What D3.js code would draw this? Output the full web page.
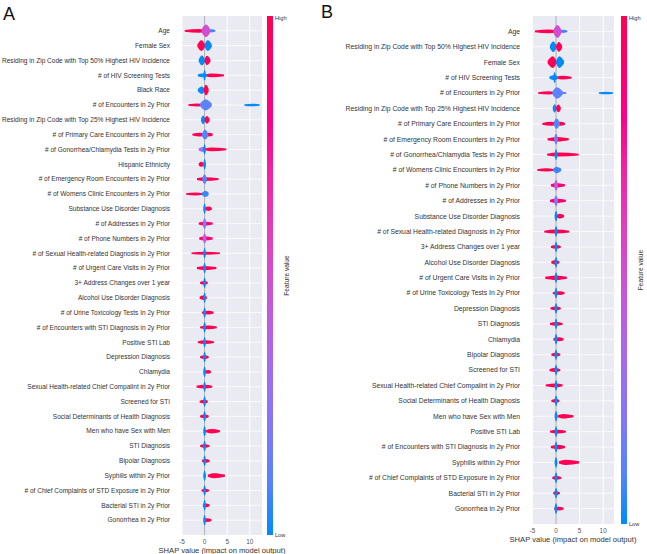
<!DOCTYPE html>
<html lang="en">
<head>
<meta charset="UTF-8" />
<title>SHAP summary</title>
<script src="https://d3js.org/d3.v7.min.js"></script>
<style>
  body { margin: 0; background: #fff; }
  text { font-family: "Liberation Sans", Arial, sans-serif; }
</style>
</head>
<body>
<script>
// feature names, top to bottom
var featuresA = [
  "Age", "Female Sex", "Residing in Zip Code with Top 50% Highest HIV Incidence",
  "# of HIV Screening Tests", "Black Race", "# of Encounters in 2y Prior",
  "Residing in Zip Code with Top 25% Highest HIV Incidence",
  "# of Primary Care Encounters in 2y Prior", "# of Gonorrhea/Chlamydia Tests in 2y Prior",
  "Hispanic Ethnicity", "# of Emergency Room Encounters in 2y Prior",
  "# of Womens Clinic Encounters in 2y Prior", "Substance Use Disorder Diagnosis",
  "# of Addresses in 2y Prior", "# of Phone Numbers in 2y Prior",
  "# of Sexual Health-related Diagnosis in 2y Prior", "# of Urgent Care Visits in 2y Prior",
  "3+ Address Changes over 1 year", "Alcohol Use Disorder Diagnosis",
  "# of Urine Toxicology Tests In 2y Prior", "# of Encounters with STI Diagnosis in 2y Prior",
  "Positive STI Lab", "Depression Diagnosis", "Chlamydia",
  "Sexual Health-related Chief Compalint in 2y Prior", "Screened for STI",
  "Social Determinants of Health Diagnosis", "Men who have Sex with Men",
  "STI Diagnosis", "Bipolar Diagnosis", "Syphilis within 2y Prior",
  "# of Chief Complaints of STD Exposure in 2y Prior", "Bacterial STI in 2y Prior",
  "Gonorrhea in 2y Prior"
];
var featuresB = [
  "Age", "Residing in Zip Code with Top 50% Highest HIV Incidence", "Female Sex",
  "# of HIV Screening Tests", "# of Encounters in 2y Prior",
  "Residing in Zip Code with Top 25% Highest HIV Incidence",
  "# of Primary Care Encounters in 2y Prior", "# of Emergency Room Encounters in 2y Prior",
  "# of Gonorrhea/Chlamydia Tests in 2y Prior", "# of Womens Clinic Encounters in 2y Prior",
  "# of Phone Numbers in 2y Prior", "# of Addresses in 2y Prior",
  "Substance Use Disorder Diagnosis", "# of Sexual Health-related Diagnosis in 2y Prior",
  "3+ Address Changes over 1 year", "Alcohol Use Disorder Diagnosis",
  "# of Urgent Care Visits in 2y Prior", "# of Urine Toxicology Tests In 2y Prior",
  "Depression Diagnosis", "STI Diagnosis", "Chlamydia", "Bipolar Diagnosis",
  "Screened for STI", "Sexual Health-related Chief Compalint in 2y Prior",
  "Social Determinants of Health Diagnosis", "Men who have Sex with Men",
  "Positive STI Lab", "# of Encounters with STI Diagnosis in 2y Prior",
  "Syphilis within 2y Prior", "# of Chief Complaints of STD Exposure in 2y Prior",
  "Bacterial STI in 2y Prior", "Gonorrhea in 2y Prior"
];

// swarm clusters per feature: [shap lo, shap at densest, shap hi, density 0-1, feature value 0(low)-1(high)]
var Z = [-0.3, 0, 0.3, 0.85, 0];
var swarmA = [
  [[-4.4, -1.2, 0, 0.3, 1], [0.8, 1.6, 2.4, 0.25, 0.05], [-0.7, 0.3, 1.3, 1.0, 0.5]],
  [[-1.6, -0.7, 0.1, 0.85, 1], [0, 0.7, 1.6, 0.85, 0]],
  [[-1.3, -0.6, 0.1, 0.8, 0], [0, 0.5, 1.3, 0.75, 1]],
  [[0.2, 1.5, 4.3, 0.3, 1], [-1.5, -0.5, 0.5, 0.3, 0], Z],
  [[-1.5, -0.6, 0, 0.6, 0], [-0.2, 0.3, 0.9, 0.85, 1]],
  [[-3.6, -1.5, -0.5, 0.25, 1], [-1, 0.2, 1.6, 0.9, 0.12], [8.8, 10.5, 12.2, 0.2, 0]],
  [[-0.8, -0.3, 0.1, 0.7, 0], [0, 0.5, 1.1, 0.6, 1]],
  [[-2.7, -1, 0, 0.3, 1], [0, 1, 1.8, 0.3, 1], [-0.6, 0.1, 0.8, 0.8, 0.1]],
  [[-1.3, -0.3, 0.3, 0.4, 0.3], [0.1, 1.5, 4.8, 0.3, 1], Z],
  [[-1.3, -0.7, -0.2, 0.4, 1], Z],
  [[-1.7, 0, 3.1, 0.3, 1], [-0.5, 0, 0.5, 0.8, 0.1]],
  [[-4.1, -2, -0.4, 0.25, 1], [-0.6, 0.2, 0.9, 0.5, 0.05]],
  [[0.1, 0.8, 1.6, 0.35, 1], Z],
  [[-1.3, 0, 1.8, 0.35, 0.9], [-0.4, 0, 0.4, 0.85, 0.2]],
  [[-1.2, 0, 1.8, 0.35, 0.9], [-0.4, 0, 0.4, 0.85, 0.4]],
  [[-2.9, 0, 3.4, 0.25, 1], Z],
  [[-1.7, 0, 2.6, 0.35, 1], Z],
  [[-1, 0, 0.7, 0.3, 1], Z],
  [[-1.1, -0.3, 0.5, 0.35, 1], Z],
  [[-0.6, 0.8, 2.0, 0.3, 1], Z],
  [[-1, 0.8, 2.7, 0.3, 1], Z],
  [[-1.5, 0, 2.1, 0.3, 1], Z],
  [[-1, 0, 0.9, 0.3, 1], Z],
  [[0.1, 0.8, 1.4, 0.3, 1], Z],
  [[-1.8, 0, 1.7, 0.3, 1], Z],
  [[-1.1, 0, 0.7, 0.3, 1], Z],
  [[-1, 0, 0.9, 0.3, 1], Z],
  [[0.3, 1.5, 3.4, 0.35, 1], Z],
  [[-1, 0, 1.1, 0.3, 1], Z],
  [[-0.6, 0.3, 1.1, 0.3, 1], Z],
  [[0.7, 2, 4.5, 0.4, 1], Z],
  [[-0.7, 0.1, 1, 0.3, 1], Z],
  [[-0.4, 0.3, 1.1, 0.3, 1], Z],
  [[-0.2, 0.6, 1.5, 0.3, 1], Z]
];
var swarmB = [
  [[-4.5, -1.5, 0, 0.3, 1], [0.8, 1.6, 2.4, 0.25, 0.05], [-0.6, 0.3, 1.2, 1.0, 0.5]],
  [[-1.3, -0.6, 0.1, 0.8, 0], [0, 0.6, 1.3, 0.75, 1]],
  [[-1.8, -0.7, 0.1, 0.9, 1], [0, 0.7, 1.7, 0.9, 0]],
  [[0.2, 1.3, 3.3, 0.3, 1], [-1.4, -0.3, 0.4, 0.4, 0], [-0.6, -0.3, 0, 0.85, 0]],
  [[-3.8, -1.5, -0.4, 0.25, 1], [1, 1.7, 2.2, 0.15, 0.2], [-0.8, 0.2, 1.5, 0.9, 0.12], [9.1, 10.6, 12.1, 0.2, 0]],
  [[-0.7, -0.3, 0.1, 0.65, 0], [0, 0.5, 1, 0.6, 1]],
  [[-2.9, -1, 0, 0.3, 1], [0, 1, 1.9, 0.3, 1], [-0.5, 0.1, 0.8, 0.8, 0.1]],
  [[-1.8, 0.3, 2.7, 0.35, 1], [-0.4, 0, 0.4, 0.85, 0.15]],
  [[-1.9, 0.5, 4.8, 0.3, 1], Z],
  [[-4, -2, -0.4, 0.25, 1], [-0.6, 0.1, 1.1, 0.5, 0.05]],
  [[-1.1, 0, 1.9, 0.35, 0.9], [-0.4, 0, 0.4, 0.85, 0.4]],
  [[-1.3, 0, 2.1, 0.35, 0.9], [-0.4, 0, 0.4, 0.85, 0.2]],
  [[0.1, 0.8, 1.7, 0.35, 1], Z],
  [[-2.5, 0, 2.8, 0.3, 1], Z],
  [[-1.1, 0, 1, 0.3, 1], Z],
  [[-1, -0.2, 0.7, 0.35, 1], Z],
  [[-2.3, 0, 2.3, 0.35, 1], Z],
  [[-0.7, 0.8, 1.8, 0.3, 1], Z],
  [[-1.2, 0, 1, 0.3, 1], Z],
  [[-1.3, 0, 1.4, 0.3, 1], Z],
  [[-0.6, 0.6, 1.6, 0.3, 1], Z],
  [[-1, 0, 0.9, 0.3, 1], Z],
  [[-1.4, -0.3, 0.9, 0.3, 1], Z],
  [[-2.2, 0, 1.4, 0.3, 1], Z],
  [[-1, 0, 0.7, 0.3, 1], Z],
  [[0.3, 1.5, 3.7, 0.35, 1], Z],
  [[-1.3, 0.3, 2.1, 0.3, 1], Z],
  [[-1.1, 0.5, 1.9, 0.35, 1], Z],
  [[0.6, 2, 4.9, 0.4, 1], Z],
  [[-0.8, 0, 1.1, 0.3, 1], Z],
  [[-0.6, 0, 0.8, 0.3, 1], Z],
  [[-0.4, 0.6, 1.6, 0.3, 1], Z]
];
var xTicks = [-5, 0, 5, 10];

var width = 647, height = 554;
var svg = d3.select("body").append("svg").attr("width", width).attr("height", height);

var color = d3.scaleLinear().domain([0, 1]).range(["#008bfb", "#ff0052"]).interpolate(d3.interpolateHcl);

// gradient for the colour bars
var grad = svg.append("defs").append("linearGradient").attr("id", "cbar")
  .attr("x1", 0).attr("y1", 1).attr("x2", 0).attr("y2", 0);
d3.range(0, 1.0001, 0.1).forEach(function(t) {
  grad.append("stop").attr("offset", t).attr("stop-color", color(t));
});

function panel(o) {
  var g = svg.append("g");
  var x = d3.scaleLinear().domain(o.xdom).range([o.left, o.right]);
  var n = o.features.length;
  var y = d3.scaleLinear().domain([0, n + 1]).range([o.top, o.bottom]);
  var step = y(1) - y(0);

  g.append("text").attr("x", o.letterX).attr("y", o.letterY)
    .attr("font-size", 18).attr("fill", "#111").text(o.letter);

  g.append("rect").attr("x", o.left).attr("y", o.top)
    .attr("width", o.right - o.left).attr("height", o.bottom - o.top).attr("fill", "#eaeaf2");

  g.selectAll(".hg").data(o.features).enter().append("line")
    .attr("x1", o.left).attr("x2", o.right)
    .attr("y1", function(d, i) { return y(i + 1); }).attr("y2", function(d, i) { return y(i + 1); })
    .attr("stroke", "#fff").attr("stroke-width", 0.8);
  g.selectAll(".vg").data(xTicks.filter(function(t) { return t !== 0; })).enter().append("line")
    .attr("x1", x).attr("x2", x).attr("y1", o.top).attr("y2", o.bottom)
    .attr("stroke", "#fff").attr("stroke-width", 1);
  g.append("line").attr("x1", x(0)).attr("x2", x(0)).attr("y1", o.top).attr("y2", o.bottom)
    .attr("stroke", "#a0a0a8").attr("stroke-width", 0.8);

  var hMax = step * 0.42;
  o.swarm.forEach(function(segs, i) {
    var yc = y(i + 1);
    var area = d3.area()
      .x(function(p) { return x(p[0]); })
      .y0(function(p) { return yc - Math.max(0.7, p[1] * hMax); })
      .y1(function(p) { return yc + Math.max(0.7, p[1] * hMax); })
      .curve(d3.curveMonotoneX);
    segs.forEach(function(s) {
      var ends = Math.min(0.45 * s[3], 1.1 / hMax);
      g.append("path")
        .attr("d", area([[s[0], ends], [s[1], s[3]], [s[2], ends]]))
        .attr("fill", color(s[4]));
    });
  });

  g.selectAll(".yl").data(o.features).enter().append("text")
    .attr("x", o.left - 12).attr("y", function(d, i) { return y(i + 1); })
    .attr("dy", "0.35em").attr("text-anchor", "end")
    .attr("font-size", o.fs).attr("fill", "#333").text(function(d) { return d; });

  g.selectAll(".xl").data(xTicks).enter().append("text")
    .attr("x", x).attr("y", o.bottom + 9).attr("text-anchor", "middle")
    .attr("font-size", 6.4).attr("fill", "#555").text(function(d) { return d; });

  g.append("text").attr("x", (o.left + o.right) / 2).attr("y", o.bottom + 18)
    .attr("text-anchor", "middle").attr("font-size", 7.6).attr("fill", "#333")
    .text("SHAP value (impact on model output)");

  // colour bar
  g.append("rect").attr("x", o.cbX).attr("y", o.top).attr("width", 6)
    .attr("height", o.bottom - o.top).attr("fill", "url(#cbar)");
  g.append("text").attr("x", o.cbX + 8).attr("y", o.top + 4)
    .attr("font-size", 5.6).attr("fill", "#333").text("High");
  g.append("text").attr("x", o.cbX + 8).attr("y", o.bottom + 2)
    .attr("font-size", 5.6).attr("fill", "#333").text("Low");
  var my = (o.top + o.bottom) / 2;
  g.append("text").attr("transform", "translate(" + (o.cbX + 22) + "," + my + ") rotate(-90)")
    .attr("text-anchor", "middle").attr("font-size", 6.6).attr("fill", "#333").text("Feature value");
}

panel({ letter: "A", letterX: 3, letterY: 20, features: featuresA, swarm: swarmA, fs: 6.55,
  xdom: [-5, 12.7], left: 182, right: 262, top: 16, bottom: 535, cbX: 267 });
panel({ letter: "B", letterX: 321, letterY: 18, features: featuresB, swarm: swarmB, fs: 6.8,
  xdom: [-5.1, 12.3], left: 532, right: 614, top: 16, bottom: 524, cbX: 621 });
</script>
</body>
</html>
